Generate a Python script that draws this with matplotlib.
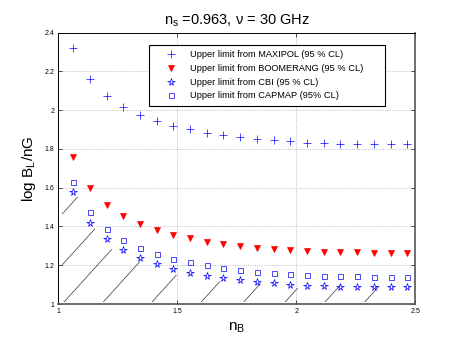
import matplotlib
matplotlib.use('Agg')
import matplotlib.pyplot as plt
import numpy as np

plt.rcParams['font.family'] = ['Liberation Sans', 'DejaVu Sans']
plt.rcParams['mathtext.fontset'] = 'custom'
plt.rcParams['mathtext.rm'] = 'Liberation Sans'
plt.rcParams['mathtext.it'] = 'Liberation Sans'

# spectral index of the magnetic field
n_B = [1.062, 1.132, 1.202, 1.273, 1.343, 1.413, 1.483, 1.554, 1.624, 1.694, 1.765,
       1.835, 1.905, 1.975, 2.045, 2.116, 2.186, 2.256, 2.326, 2.397, 2.467]

# log B_L / nG upper limits
maxipol = [2.320, 2.160, 2.072, 2.017, 1.974, 1.944, 1.919, 1.902, 1.882, 1.871, 1.860,
           1.852, 1.845, 1.840, 1.832, 1.829, 1.827, 1.827, 1.827, 1.827, 1.827]
boomerang = [1.757, 1.597, 1.513, 1.456, 1.414, 1.382, 1.358, 1.339, 1.322, 1.310, 1.298,
             1.289, 1.282, 1.277, 1.272, 1.268, 1.267, 1.267, 1.265, 1.265, 1.265]
cbi = [1.580, 1.420, 1.335, 1.277, 1.237, 1.207, 1.182, 1.162, 1.146, 1.133, 1.124,
       1.114, 1.107, 1.100, 1.095, 1.091, 1.090, 1.088, 1.088, 1.088, 1.088]
capmap = [1.631, 1.473, 1.387, 1.330, 1.291, 1.258, 1.234, 1.215, 1.200, 1.184, 1.176,
          1.164, 1.159, 1.153, 1.148, 1.145, 1.143, 1.143, 1.141, 1.141, 1.141]

labels = ['Upper limit from MAXIPOL (95 % CL)',
          'Upper limit from BOOMERANG (95 % CL)',
          'Upper limit from CBI (95 % CL)',
          'Upper limit from CAPMAP (95% CL)']

# hatched region under the limits
hatch_x = [1.015, 1.083, 1.153, 1.223, 1.342, 1.496, 1.691, 1.856, 1.999, 2.177, 2.355, 2.400]
hatch_top = [1.620, 1.551, 1.391, 1.284, 1.218, 1.150, 1.115, 1.107, 1.081, 1.098, 1.093, 1.090]
hatch_bottom = 1.01
hatch_starts = [0.68, 0.874, 1.023, 1.188, 1.393, 1.600, 1.779, 1.953, 2.121, 2.288]
hatch_slope = 1.354

x_ticks = [1, 1.5, 2, 2.5]
y_ticks = [1, 1.2, 1.4, 1.6, 1.8, 2, 2.2, 2.4]

fig = plt.figure(figsize=(4.58, 3.43), dpi=100)
ax = fig.add_axes([0.1277, 0.1137, 0.7786, 0.791])

ax.set_xlim(1, 2.5)
ax.set_ylim(1, 2.4)

# hatch: parallel lines clipped by the region
region = ax.fill_between(hatch_x, hatch_bottom, hatch_top, facecolor='none', edgecolor='none')
for s in hatch_starts:
    line, = ax.plot([s, s + 1.5 / hatch_slope], [hatch_bottom, hatch_bottom + 1.5],
                    color='#333333', lw=0.5, zorder=1)
    line.set_clip_path(region.get_paths()[0], region.get_transform())

ax.plot(n_B, maxipol, '+', color='blue', ms=5.5, mew=0.5, ls='none', label=labels[0])
ax.plot(n_B, boomerang, 'v', color='red', ms=4.5, mew=0.5, ls='none', label=labels[1])
ax.plot(n_B, cbi, '*', color='blue', mfc='none', ms=5.5, mew=0.5, ls='none', label=labels[2])
ax.plot(n_B, capmap, 's', color='blue', mfc='none', ms=3.6, mew=0.5, ls='none', label=labels[3])

ax.set_xticks(x_ticks)
ax.set_yticks(y_ticks)
ax.set_xticklabels(['{:g}'.format(v) for v in x_ticks])
ax.set_yticklabels(['{:g}'.format(v) for v in y_ticks])
ax.tick_params(direction='in', length=3, width=0.5, top=True, right=True,
               labelsize=5, pad=3)
ax.grid(True, linestyle=':', linewidth=0.6, color='#aaaaaa')
ax.set_axisbelow(True)
for side in ['top', 'left']:
    ax.spines[side].set_linewidth(0.7)
for side in ['bottom', 'right']:
    ax.spines[side].set_linewidth(1.2)
    ax.spines[side].set_color('#555555')

leg = ax.legend(loc='upper left', bbox_to_anchor=(0.254, 0.733, 0.662, 0.222),
                mode='expand', borderaxespad=0, fontsize=6.7, numpoints=1,
                handlelength=3.5, handletextpad=0.3, borderpad=0.6, labelspacing=0.5,
                fancybox=False, framealpha=1)
leg.get_frame().set_edgecolor('black')
leg.get_frame().set_linewidth(0.8)

ax.set_title(r'$\mathregular{n_s}$ =0.963, ν = 30 GHz', fontsize=10.5, pad=6)
ax.set_xlabel(r'$\mathregular{n_B}$', fontsize=11)
ax.xaxis.set_label_coords(0.5, -0.06)
ax.xaxis.label.set_va('top')
ax.set_ylabel(r'log $\mathregular{B_L}$/nG', fontsize=11)
ax.yaxis.set_label_coords(-0.058, 0.5)

fig.savefig('out.png', dpi=100)
